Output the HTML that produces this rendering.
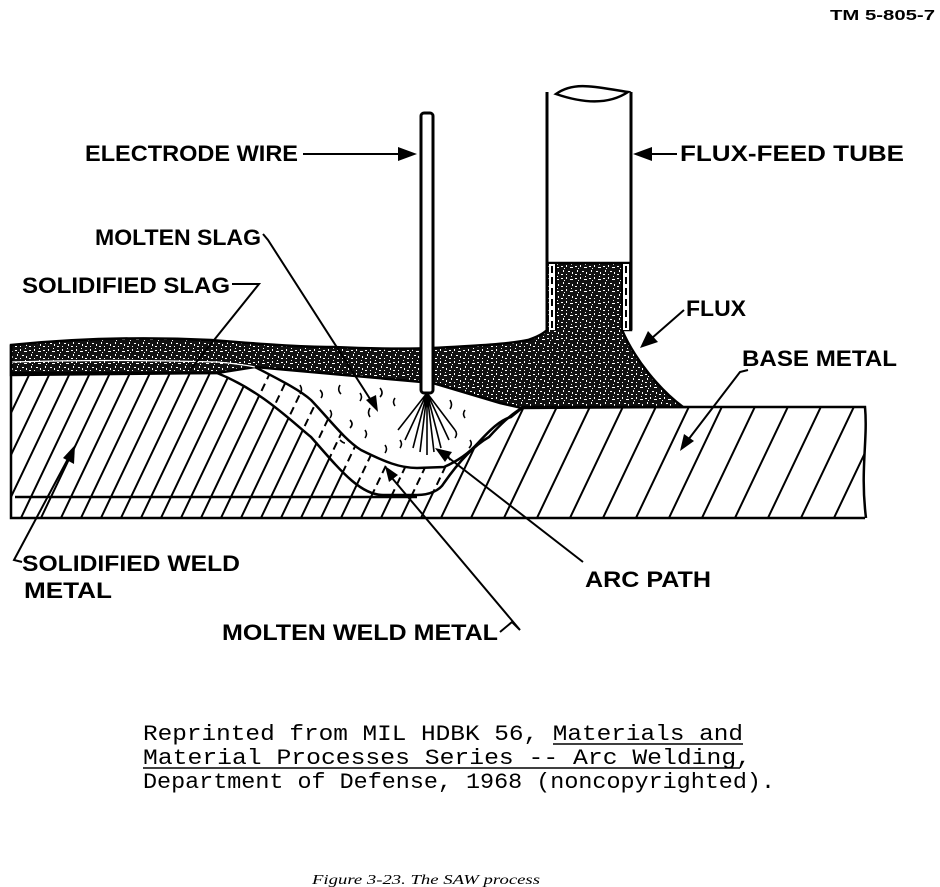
<!DOCTYPE html>
<html><head><meta charset="utf-8"><style>
html,body{margin:0;padding:0;background:#fff;}
svg{display:block;}
.lb{font-family:"Liberation Sans",sans-serif;font-size:22px;font-weight:bold;fill:#000;}
.mono{font-family:"Liberation Mono",monospace;font-size:22px;fill:#000;}
</style></head><body>
<svg width="940" height="887" viewBox="0 0 940 887" xmlns="http://www.w3.org/2000/svg">
<defs>
<pattern id="flux" width="14" height="12" patternUnits="userSpaceOnUse">
<rect width="14" height="12" fill="#111"/>
<path d="M1 2h2v1h-2zM6 1h1v2h-1zM10 3h3v1h-3zM3 6h1v2h-1zM8 7h2v1h-2zM12 8h1v2h-1zM1 10h2v1h-2zM6 10h1v1h-1zM4 4h1v1h-1zM11 0h1v1h-1z" fill="#fff"/>
</pattern>
<clipPath id="baseL"><path d="M11,373 L217,373 C260,390 290,420 311,437 C340,470 360,495 383,495 L417,495 C430,495 440,490 444,483 C460,460 475,445 489,437 C500,425 510,415 522,408 L865,407 L865,518 L11,518 Z"/></clipPath>
<clipPath id="pool"><path d="M217,373 L255,367 C280,380 300,390 311,400 C330,420 345,440 361,450 C385,462 400,468 417,468 L444,467 C460,460 470,452 478,443 C490,430 500,420 511,417 L522,408 C510,415 500,425 489,437 C475,445 460,460 444,483 C440,490 430,495 417,495 L383,495 C360,495 340,470 311,437 C290,420 260,390 217,373 Z"/></clipPath>
</defs>

<text x="830" y="20" font-family="Liberation Sans,sans-serif" font-weight="bold" font-size="15" textLength="105" lengthAdjust="spacingAndGlyphs">TM 5-805-7</text>

<g clip-path="url(#baseL)" stroke="#000" stroke-width="2">
<path d="M-40,520 L30,373 M-20,520 L50,373 M0,520 L70,373 M20,520 L90,373 M40,520 L110,373 M60,520 L130,373 M80,520 L150,373 M100,520 L170,373 M120,520 L190,373 M140,520 L210,373 M160,520 L230,373 M180,520 L250,373 M200,520 L270,373 M220,520 L290,373 M240,520 L310,373 M260,520 L330,373 M280,520 L350,373 M300,520 L370,373 M320,520 L390,373 M340,520 L410,373 M360,520 L430,373 M380,520 L450,373 M400,520 L470,373 M420,520 L490,373"/>
<path d="M440,520 L510,373 M470,520 L540,373 M503,520 L573,373 M536,520 L606,373 M569,520 L639,373 M602,520 L672,373 M635,520 L705,373 M668,520 L738,373 M701,520 L771,373 M734,520 L804,373 M767,520 L837,373 M800,520 L870,373 M833,520 L903,373"/>
</g>
<path d="M217,373 L255,367 C280,380 300,390 311,400 C330,420 345,440 361,450 C385,462 400,468 417,468 L444,467 C460,460 470,452 478,443 C490,430 500,420 511,417 L522,408 C510,415 500,425 489,437 C475,445 460,460 444,483 C440,490 430,495 417,495 L383,495 C360,495 340,470 311,437 C290,420 260,390 217,373 Z" fill="#fff"/>
<g clip-path="url(#pool)" stroke="#000" stroke-width="2" stroke-dasharray="8,5">
<path d="M200,520 L270,373 M220,520 L290,373 M240,520 L310,373 M260,520 L330,373 M280,520 L350,373 M300,520 L370,373 M320,520 L390,373 M340,520 L410,373 M360,520 L430,373 M380,520 L450,373 M400,520 L470,373 M420,520 L490,373 M440,520 L510,373"/>
</g>
<path d="M255,367 C280,380 300,390 311,400 C330,420 345,440 361,450 C385,462 400,468 417,468 L444,467 C460,460 470,452 478,443 C490,430 500,420 511,417 L500,403 L433,383 Z" fill="#fff"/>
<g stroke="#000" stroke-width="1.6" fill="none">
<path d="M300,385 q3,5 0,9 M320,390 q4,4 1,8 M340,385 q-3,5 1,9 M360,393 q3,4 0,8 M380,388 q4,5 0,9 M395,398 q-3,4 0,8 M330,410 q3,4 0,8 M350,420 q4,4 0,8 M370,408 q-3,5 0,9 M365,430 q3,4 0,8 M450,400 q3,5 0,9 M465,410 q-3,4 0,8 M455,430 q3,4 0,8 M470,440 q3,4 -1,8 M400,440 q3,4 0,8 M385,445 q3,4 0,8 M450,452 q-3,4 0,8 M340,440 q3,3 5,3"/>
<path d="M427,393 L405,440 M427,393 L413,448 M427,393 L420,452 M427,393 L427,455 M427,393 L434,452 M427,393 L441,448 M427,393 L449,440 M427,393 L455,430 M427,393 L398,430"/>
</g>
<path d="M11,345 C80,338 150,337 211,340 C260,344 300,347 333,347 C380,349 410,349 433,348 C470,346 510,344 528,340 C540,336 545,332 547,330 L547,263 L631,263 L631,330 L622,330 C635,360 660,390 683,407 L522,408 L500,403 L433,383 L255,367 L217,373 L11,375 Z" fill="url(#flux)" stroke="#000" stroke-width="2.5"/>
<path d="M11,362 C80,360 150,360 217,362 C240,364 250,366 255,367" fill="none" stroke="#fff" stroke-width="1.2"/>
<g stroke="#000" stroke-width="2.5" fill="none">
<path d="M11,373 L217,373 C260,390 290,420 311,437 C340,470 360,495 383,495 L417,495 C430,495 440,490 444,483 C460,460 475,445 489,437 C500,425 510,415 522,408"/>
<path d="M255,367 C280,380 300,390 311,400 C330,420 345,440 361,450 C385,462 400,468 417,468 L444,467 C460,460 470,452 478,443 C490,430 500,420 511,417 L522,408"/>
<path d="M11,345 L11,518 L865,518"/>
<path d="M15,497 L417,497"/>
<path d="M522,407 L865,407 C868,440 860,470 866,518"/>
</g>
<rect x="421" y="113" width="12" height="280" rx="3" fill="#fff" stroke="#000" stroke-width="3"/>
<path d="M547,92 L547,330 M631,92 L631,330" stroke="#000" stroke-width="3" fill="none"/>
<path d="M556,94 C575,80 600,88 628,92 C610,104 585,104 556,94 Z" fill="#fff" stroke="#000" stroke-width="2.5"/>
<path d="M547,263 L631,263" stroke="#000" stroke-width="2"/>
<rect x="549" y="264" width="6" height="66" fill="#fff"/>
<rect x="623" y="264" width="6" height="66" fill="#fff"/>
<path d="M552,266 V330 M626,266 V330" stroke="#000" stroke-width="2" stroke-dasharray="7,4"/>
<path d="M556,264 V330 M622,264 V330" stroke="#000" stroke-width="2"/>

<text class="lb" x="85" y="161" textLength="213" lengthAdjust="spacingAndGlyphs">ELECTRODE WIRE</text>
<path d="M303,154 H400" stroke="#000" stroke-width="2"/><path d="M417,154 L398,147 L398,161 Z"/>
<text class="lb" x="680" y="161" textLength="224" lengthAdjust="spacingAndGlyphs">FLUX-FEED TUBE</text>
<path d="M677,154 H650" stroke="#000" stroke-width="2"/><path d="M633,154 L652,147 L652,161 Z"/>
<text class="lb" x="95" y="245" textLength="166" lengthAdjust="spacingAndGlyphs">MOLTEN SLAG</text>
<path d="M263,234 L268,240 L372,402" stroke="#000" stroke-width="2" fill="none"/><path d="M378,412 L366,400 L376,395 Z"/>
<text class="lb" x="22" y="293" textLength="208" lengthAdjust="spacingAndGlyphs">SOLIDIFIED SLAG</text>
<path d="M232,284 H259 L190,370" stroke="#000" stroke-width="2" fill="none"/>
<text class="lb" x="686" y="316" textLength="60" lengthAdjust="spacingAndGlyphs">FLUX</text>
<path d="M684,310 L652,338" stroke="#000" stroke-width="2"/><path d="M640,348 L648,331 L658,342 Z"/>
<text class="lb" x="742" y="366" textLength="155" lengthAdjust="spacingAndGlyphs">BASE METAL</text>
<path d="M748,370 L740,372 L688,440" stroke="#000" stroke-width="2" fill="none"/><path d="M680,451 L684,434 L694,441 Z"/>
<text class="lb" x="22" y="571" textLength="218" lengthAdjust="spacingAndGlyphs">SOLIDIFIED WELD</text>
<text class="lb" x="24" y="598" textLength="88" lengthAdjust="spacingAndGlyphs">METAL</text>
<path d="M22,562 L14,560 L70,455" stroke="#000" stroke-width="2" fill="none"/><path d="M75,445 L74,464 L63,458 Z"/>
<text class="lb" x="585" y="587" textLength="126" lengthAdjust="spacingAndGlyphs">ARC PATH</text>
<path d="M583,562 L445,455" stroke="#000" stroke-width="2"/><path d="M435,448 L452,452 L445,462 Z"/>
<text class="lb" x="222" y="640" textLength="276" lengthAdjust="spacingAndGlyphs">MOLTEN WELD METAL</text>
<path d="M500,632 L512,622 L520,630 L392,478" stroke="#000" stroke-width="2" fill="none"/><path d="M385,466 L398,475 L389,482 Z"/>

<text class="mono" x="143" y="740" textLength="600" lengthAdjust="spacingAndGlyphs">Reprinted from MIL HDBK 56, Materials and</text>
<text class="mono" x="143" y="764" textLength="608" lengthAdjust="spacingAndGlyphs">Material Processes Series -- Arc Welding,</text>
<text class="mono" x="143" y="788" textLength="632" lengthAdjust="spacingAndGlyphs">Department of Defense, 1968 (noncopyrighted).</text>
<path d="M553,744 H743 M143,768 H740" stroke="#000" stroke-width="1.5"/>
<text x="312" y="884" font-family="Liberation Serif,serif" font-style="italic" font-size="14" textLength="228" lengthAdjust="spacingAndGlyphs">Figure 3-23. The SAW process</text>
</svg>
</body></html>
